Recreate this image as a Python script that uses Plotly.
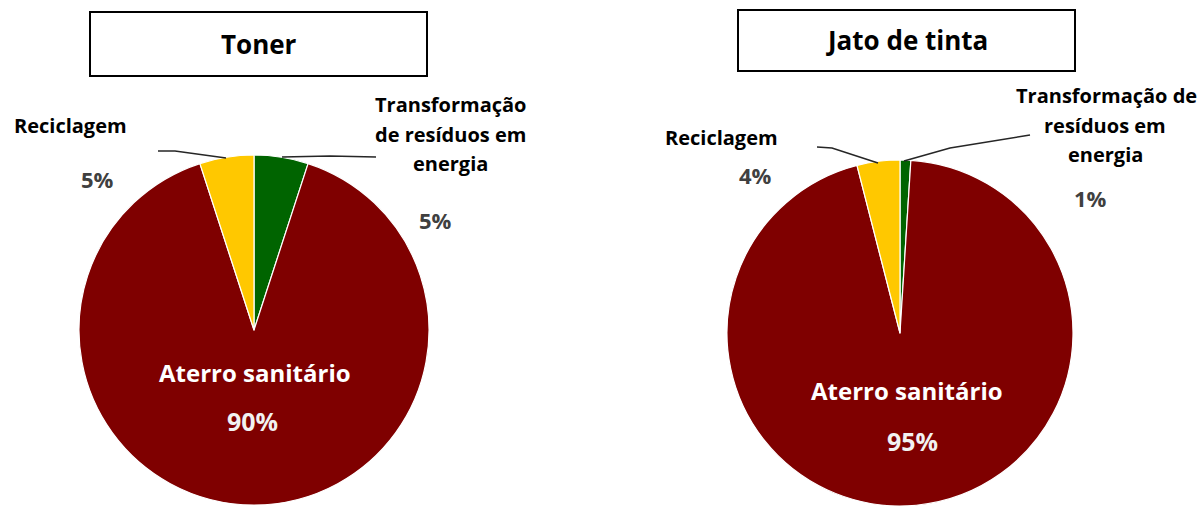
import plotly.graph_objects as go

# ---- data ----
categories = ["Transformação de resíduos em energia", "Aterro sanitário", "Reciclagem"]
toner_values = [5, 90, 5]
jato_values = [1, 95, 4]
chart_titles = ["Toner", "Jato de tinta"]
colors = ["#006400", "#7F0000", "#FFC800"]

W, H = 1204, 506
FONT = "Open Sans"


def px(x):
    return x / W


def py(y):
    return 1 - y / H


fig = go.Figure()

# pies
fig.add_trace(go.Pie(
    labels=categories, values=toner_values, sort=False, direction="clockwise", rotation=0,
    marker=dict(colors=colors, line=dict(color="white", width=1.2)),
    textinfo="none", hoverinfo="label+percent", showlegend=False,
    domain=dict(x=[px(79), px(429)], y=[py(505), py(155)]),
))
fig.add_trace(go.Pie(
    labels=categories, values=jato_values, sort=False, direction="clockwise", rotation=0,
    marker=dict(colors=colors, line=dict(color="white", width=1.2)),
    textinfo="none", hoverinfo="label+percent", showlegend=False,
    domain=dict(x=[px(726), px(1074)], y=[0, py(160)]),
))

shapes = []
annotations = []


def text(x, y, s, size, color="black"):
    annotations.append(dict(
        x=px(x), y=py(y), xref="paper", yref="paper", text=s, showarrow=False,
        xanchor="center", yanchor="middle",
        font=dict(family=FONT, size=size, color=color, weight="bold"),
    ))


def line(points):
    path = "M " + " L ".join(f"{px(a)},{py(b)}" for a, b in points)
    shapes.append(dict(type="path", xref="paper", yref="paper", path=path,
                       line=dict(color="#262626", width=1.6)))


# title boxes
for (x0, y0, x1, y1), t in zip([(90, 12, 427, 76), (738, 10, 1075, 71)], chart_titles):
    shapes.append(dict(type="rect", xref="paper", yref="paper",
                       x0=px(x0), x1=px(x1), y0=py(y1), y1=py(y0),
                       line=dict(color="black", width=2), fillcolor="white"))
    text((x0 + x1) / 2, (y0 + y1) / 2, t, 26)

# ---- Toner labels ----
text(70, 125, "Reciclagem", 20)
text(97, 179, f"{toner_values[2]}%", 22, "#404040")
text(451, 104, "Transformação", 20)
text(450, 134, "de resíduos em", 20)
text(450, 163, "energia", 20)
text(435, 220, f"{toner_values[0]}%", 22, "#404040")
text(255, 372, categories[1], 24, "white")
text(252, 421, f"{toner_values[1]}%", 25, "#F2F2F2")
line([(158, 151), (175, 151), (226, 158)])
line([(282, 157), (330, 156), (376, 157)])

# ---- Jato de tinta labels ----
text(721, 137, "Reciclagem", 20)
text(755, 175, f"{jato_values[2]}%", 22, "#404040")
text(1106, 95, "Transformação de", 20)
text(1105, 125, "resíduos em", 20)
text(1105, 154, "energia", 20)
text(1090, 198, f"{jato_values[0]}%", 22, "#404040")
text(907, 390, categories[1], 24, "white")
text(912, 441, f"{jato_values[1]}%", 25, "#F2F2F2")
line([(817, 147), (832, 148), (878, 163)])
line([(904, 161), (950, 148), (1030, 135)])

fig.update_layout(
    width=W, height=H, margin=dict(l=0, r=0, t=0, b=0),
    paper_bgcolor="white", plot_bgcolor="white",
    shapes=shapes, annotations=annotations,
)

fig.write_html("out.html", config={"displayModeBar": False},
               post_script="document.body.style.margin='0';")
